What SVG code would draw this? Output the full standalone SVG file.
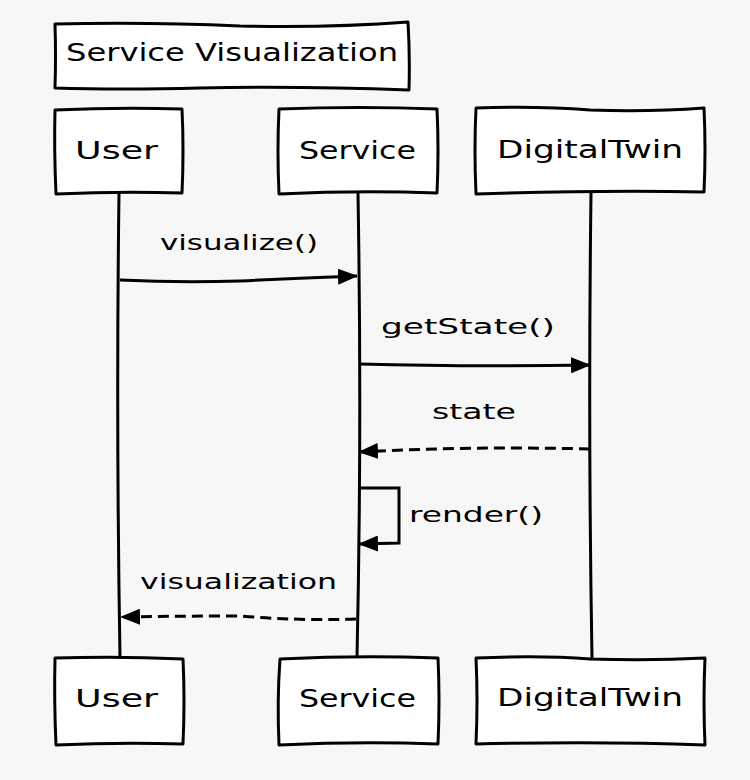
<svg xmlns="http://www.w3.org/2000/svg" width="750" height="780" viewBox="0 0 750 780">
<style>
.bg{fill:#f7f7f7}
.box{fill:#ffffff;stroke:#000;stroke-width:3;stroke-linejoin:round}
.life{fill:none;stroke:#000;stroke-width:3}
.msg{fill:none;stroke:#000;stroke-width:3}
.dash{stroke-dasharray:11,6}
.t{font-family:"DejaVu Sans","Liberation Sans",sans-serif;font-size:24px;fill:#000}
.ml{font-family:"DejaVu Sans","Liberation Sans",sans-serif;font-size:22px;fill:#000}
</style>
<defs>
<marker id="ah" markerWidth="20" markerHeight="16" refX="19" refY="8" orient="auto" markerUnits="userSpaceOnUse">
<path d="M0,0 L20,8 L0,16 z" fill="#000"/>
</marker>
</defs>
<rect class="bg" x="0" y="0" width="750" height="780"/>
<g id="title">
<path class="box" d="M55,24 Q150,22 240,26 Q330,28 408,22 Q410,55 409,90 Q300,86 200,88 Q120,90 55,88 Q56,55 55,24 z"/>
<text class="t" x="66" y="61" textLength="332" lengthAdjust="spacingAndGlyphs">Service Visualization</text>
</g>
<g id="connectors">
<path class="life" d="M119,193 Q116,420 120,658"/>
<path class="life" d="M358,193 Q362,430 357,658"/>
<path class="life" d="M591,193 Q588,430 592,658"/>
<path class="msg" d="M120,280 Q180,283 240,281 Q300,278 357,276" marker-end="url(#ah)"/>
<path class="msg" d="M359,364 Q470,367 590,365" marker-end="url(#ah)"/>
<path class="msg dash" d="M590,449 Q470,446 359,452" marker-end="url(#ah)"/>
<path class="msg" d="M359,488 L399,488 L399,543 L359,544" marker-end="url(#ah)"/>
<path class="msg dash" d="M356,619 Q300,621 240,616 Q180,616 121,617" marker-end="url(#ah)"/>
</g>
<g id="labels">
<text class="ml" x="160" y="250" textLength="158" lengthAdjust="spacingAndGlyphs">visualize()</text>
<text class="ml" x="381" y="334" textLength="174" lengthAdjust="spacingAndGlyphs">getState()</text>
<text class="ml" x="432" y="419" textLength="84" lengthAdjust="spacingAndGlyphs">state</text>
<text class="ml" x="409" y="522" textLength="134" lengthAdjust="spacingAndGlyphs">render()</text>
<text class="ml" x="140" y="589" textLength="197" lengthAdjust="spacingAndGlyphs">visualization</text>
</g>
<g id="user-top">
<path class="box" d="M55,110 Q120,107 182,109 Q184,150 182,193 Q120,191 56,194 Q54,150 55,110 z"/>
<text class="t" x="75" y="159" textLength="83" lengthAdjust="spacingAndGlyphs">User</text>
</g>
<g id="service-top">
<path class="box" d="M279,109 Q360,106 437,109 Q439,150 437,193 Q360,190 279,194 Q277,150 279,109 z"/>
<text class="t" x="299" y="159" textLength="117" lengthAdjust="spacingAndGlyphs">Service</text>
</g>
<g id="digitaltwin-top">
<path class="box" d="M476,108 Q540,106 590,110 Q650,112 704,108 Q706,150 704,192 Q600,190 476,194 Q474,150 476,108 z"/>
<text class="t" x="497" y="158" textLength="186" lengthAdjust="spacingAndGlyphs">DigitalTwin</text>
</g>
<g id="user-bottom">
<path class="box" d="M55,658 Q120,656 183,659 Q185,700 183,744 Q120,742 56,745 Q54,700 55,658 z"/>
<text class="t" x="75" y="707" textLength="83" lengthAdjust="spacingAndGlyphs">User</text>
</g>
<g id="service-bottom">
<path class="box" d="M280,659 Q360,655 438,658 Q440,700 438,744 Q360,741 279,745 Q277,700 280,659 z"/>
<text class="t" x="299" y="707" textLength="117" lengthAdjust="spacingAndGlyphs">Service</text>
</g>
<g id="digitaltwin-bottom">
<path class="box" d="M476,658 Q540,655 590,659 Q650,661 705,658 Q703,700 705,745 Q600,741 476,744 Q478,700 476,658 z"/>
<text class="t" x="497" y="706" textLength="186" lengthAdjust="spacingAndGlyphs">DigitalTwin</text>
</g>
</svg>
